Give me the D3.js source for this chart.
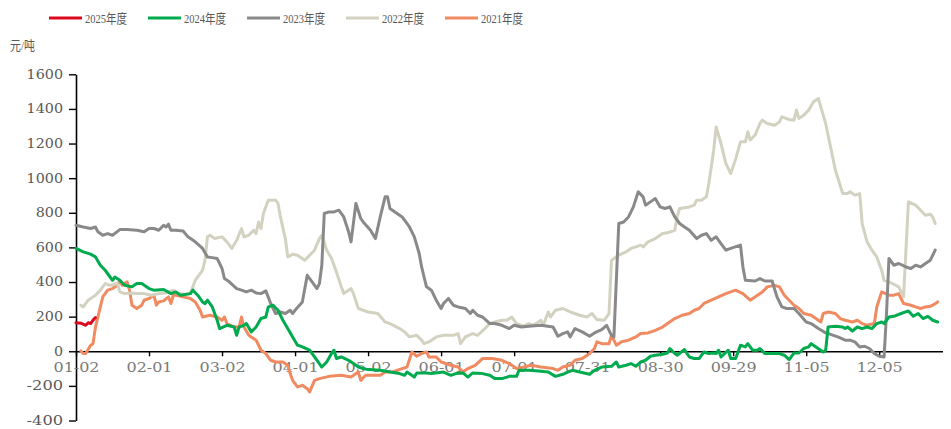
<!DOCTYPE html>
<html>
<head>
<meta charset="utf-8">
<script src="https://cdn.jsdelivr.net/npm/d3@7"></script>
<style>
body { margin: 0; background: #fff; }
svg text { fill: #595959; }
</style>
</head>
<body>
<script>
// category labels shown on the x axis (one every 30 trading dates)
var xLabels = ["01-02", "02-01", "03-02", "04-01", "05-02", "06-01", "07-01", "07-31", "08-30", "09-29", "11-05", "12-05"];
var yTicks = [-400, -200, 0, 200, 400, 600, 800, 1000, 1200, 1400, 1600];
var seriesNames = ["2025年度", "2024年度", "2023年度", "2022年度", "2021年度"];
var seriesColors = ["#dc0a1e", "#00aa4e", "#898989", "#d3d2c0", "#f08a60"];

// [category index, 元/吨]
var s2025 = [[0,165],[2,162],[4,150],[5,165],[6,160],[7,180],[8,195]];

var s2024 = [[0,594],[3,574],[6,561],[8,545],[10,497],[12,468],[14,429],[15,410],[16,429],[18,410],[20,381],[23,372],[25,391],[27,391],[30,362],[32,353],[36,357],[39,333],[41,343],[43,324],[47,333],[48,353],[50,324],[52,285],[53,275],[54,295],[56,256],[58,179],[59,131],[62,150],[65,140],[66,92],[67,140],[69,150],[70,160],[72,112],[74,140],[76,189],[78,198],[79,256],[81,266],[83,237],[85,179],[87,131],[89,83],[91,35],[93,25],[96,6],[98,-33],[101,-91],[103,-62],[105,-13],[106,6],[107,-42],[109,-33],[112,-52],[114,-71],[116,-91],[118,-100],[120,-106],[125,-110],[129,-120],[133,-129],[135,-139],[136,-120],[139,-149],[140,-125],[144,-125],[146,-129],[151,-120],[154,-139],[156,-129],[159,-125],[161,-149],[163,-125],[167,-129],[170,-139],[172,-158],[175,-158],[178,-145],[181,-145],[182,-110],[186,-110],[190,-114],[194,-120],[197,-145],[200,-133],[202,-120],[204,-110],[207,-120],[211,-133],[213,-110],[216,-91],[220,-87],[222,-62],[223,-91],[226,-81],[228,-71],[230,-87],[232,-62],[234,-52],[236,-29],[238,-23],[241,-17],[243,-10],[244,16],[246,-13],[247,-23],[250,10],[251,-13],[252,-33],[254,-42],[256,-42],[258,-4],[260,-13],[262,-10],[263,-13],[264,6],[265,-33],[268,6],[269,-42],[271,-42],[273,35],[275,25],[276,44],[278,6],[280,6],[281,16],[283,-13],[286,-13],[289,-13],[291,-23],[293,-48],[295,-10],[297,-10],[299,16],[301,25],[302,44],[304,25],[307,-4],[308,6],[309,140],[312,145],[315,140],[316,131],[317,140],[319,117],[321,140],[323,131],[325,140],[327,131],[329,160],[331,169],[332,160],[334,198],[336,202],[339,218],[342,233],[344,202],[346,218],[348,189],[350,202],[352,179],[354,169]];

var s2023 = [[0,728],[3,718],[6,709],[8,718],[9,690],[11,670],[13,680],[15,670],[18,703],[21,703],[25,699],[28,690],[30,709],[32,709],[34,699],[36,728],[37,718],[38,734],[39,699],[41,699],[44,695],[46,661],[49,632],[52,594],[54,545],[56,541],[58,536],[60,478],[61,420],[63,401],[66,362],[68,353],[70,343],[72,353],[74,337],[76,333],[78,349],[80,276],[82,218],[84,227],[86,218],[88,237],[89,218],[90,237],[93,285],[95,439],[97,401],[99,362],[100,391],[101,497],[102,796],[104,805],[106,805],[108,815],[110,776],[112,690],[113,632],[115,854],[117,767],[118,747],[121,699],[123,651],[125,776],[127,892],[128,892],[129,825],[131,805],[134,776],[135,757],[137,718],[139,661],[141,565],[142,487],[143,429],[144,372],[146,353],[148,295],[150,247],[151,276],[153,305],[155,266],[157,256],[160,247],[162,218],[163,237],[165,208],[167,198],[170,160],[172,160],[175,150],[178,131],[180,150],[183,140],[186,145],[191,150],[196,140],[198,87],[200,102],[202,112],[203,83],[205,131],[208,112],[211,87],[213,106],[216,125],[218,150],[220,92],[221,83],[222,410],[223,738],[225,747],[227,776],[229,834],[231,921],[233,892],[234,844],[236,863],[238,882],[240,834],[242,825],[244,834],[246,776],[248,738],[250,718],[252,699],[255,651],[257,670],[259,680],[261,641],[263,661],[265,622],[267,584],[269,594],[273,613],[274,487],[275,410],[279,406],[281,420],[283,406],[286,406],[288,314],[290,256],[292,247],[295,247],[297,218],[300,169],[302,160],[305,131],[308,106],[310,98],[313,83],[316,64],[318,64],[320,54],[322,25],[324,29],[326,16],[328,-13],[330,-29],[332,-33],[333,218],[334,536],[336,497],[338,507],[341,487],[343,478],[345,497],[347,487],[349,507],[351,526],[353,584]];

var s2022 = [[2,266],[3,256],[5,295],[8,324],[10,353],[12,391],[14,381],[17,391],[18,343],[20,333],[22,337],[25,333],[28,333],[31,324],[34,333],[37,337],[40,353],[42,333],[45,330],[47,333],[49,410],[52,468],[53,526],[54,661],[55,670],[57,651],[60,661],[62,632],[64,594],[66,641],[68,709],[69,661],[71,670],[73,699],[74,680],[75,747],[76,709],[77,796],[79,873],[82,873],[83,854],[84,776],[86,651],[87,545],[89,560],[91,555],[94,526],[98,584],[100,651],[101,670],[103,584],[105,536],[107,458],[109,372],[110,333],[113,362],[114,333],[116,247],[120,227],[124,218],[127,169],[129,160],[133,131],[135,112],[137,83],[140,92],[142,64],[143,44],[145,54],[148,83],[151,92],[155,92],[157,102],[158,44],[160,83],[163,102],[165,92],[168,131],[170,160],[172,169],[175,179],[177,179],[179,198],[181,160],[184,145],[186,160],[188,150],[191,179],[192,150],[194,227],[195,198],[197,237],[200,247],[203,227],[207,208],[210,198],[212,218],[214,183],[217,179],[219,218],[220,526],[223,555],[226,574],[228,594],[230,603],[232,613],[233,603],[235,632],[238,651],[241,680],[243,684],[246,699],[247,776],[248,825],[252,834],[254,844],[255,873],[257,873],[259,892],[260,969],[262,1162],[263,1296],[265,1200],[267,1084],[269,1027],[271,1110],[273,1210],[275,1210],[276,1268],[277,1220],[279,1249],[281,1316],[282,1335],[284,1316],[287,1306],[289,1325],[290,1354],[293,1339],[295,1335],[296,1393],[297,1345],[299,1364],[301,1393],[303,1441],[305,1460],[306,1412],[308,1316],[310,1181],[312,1046],[315,911],[317,911],[318,921],[320,902],[322,911],[323,738],[325,632],[327,584],[329,545],[331,468],[332,410],[334,401],[336,387],[338,372],[340,314],[342,863],[345,844],[347,815],[349,786],[351,792],[352,776],[353,738]];

var s2021 = [[2,2],[3,-13],[4,-13],[6,35],[7,44],[8,140],[10,256],[11,314],[13,353],[15,362],[17,381],[18,410],[19,381],[21,401],[22,353],[23,266],[25,247],[27,266],[28,295],[30,305],[32,324],[33,266],[34,285],[36,291],[38,314],[39,276],[40,324],[41,324],[44,314],[47,305],[49,285],[51,237],[52,198],[55,208],[58,198],[60,179],[61,198],[62,160],[65,140],[67,140],[68,198],[69,140],[71,92],[72,83],[74,64],[76,6],[78,-13],[80,-52],[82,-62],[85,-62],[87,-81],[88,-129],[89,-168],[91,-206],[93,-197],[95,-216],[96,-235],[98,-168],[100,-158],[104,-145],[109,-139],[113,-149],[116,-120],[117,-168],[119,-139],[123,-139],[125,-139],[127,-120],[130,-120],[134,-100],[136,-91],[138,-4],[140,-29],[142,-13],[144,-4],[145,-33],[148,-33],[150,-62],[154,-81],[157,-91],[159,-120],[161,-100],[164,-81],[167,-42],[171,-42],[175,-52],[178,-71],[181,-100],[184,-91],[187,-81],[191,-91],[196,-100],[198,-110],[200,-91],[203,-81],[205,-52],[208,-42],[211,-13],[213,16],[214,54],[216,44],[219,44],[220,92],[222,35],[224,54],[227,64],[230,83],[232,102],[235,106],[238,121],[241,140],[243,160],[246,189],[249,208],[252,218],[254,237],[256,247],[258,276],[261,295],[264,314],[267,333],[269,343],[271,353],[274,333],[277,295],[280,324],[282,343],[284,372],[287,381],[289,372],[291,324],[293,295],[295,266],[297,247],[299,218],[302,208],[304,189],[306,169],[307,218],[309,227],[312,218],[314,189],[316,179],[319,169],[321,179],[323,160],[325,150],[328,160],[329,256],[331,343],[334,324],[336,324],[338,333],[340,276],[343,266],[345,256],[347,247],[349,256],[351,260],[352,266],[354,285]];

var allSeries = [s2025, s2024, s2023, s2022, s2021];

var width = 951, height = 429;

var svg = d3.select("body")
            .append("svg")
            .attr("width", width)
            .attr("height", height);

var x = d3.scaleLinear().domain([0, 356]).range([76, 942.5]);
var y = d3.scaleLinear().domain([-400, 1600]).range([420.5, 74.3]);

// y axis
var yAxis = svg.append("g")
               .attr("transform", "translate(" + x(0) + ",0)")
               .call(d3.axisLeft(y)
                       .tickValues(yTicks)
                       .tickSize(7)
                       .tickSizeOuter(0)
                       .tickPadding(6)
                       .tickFormat(function(d){ return String(d); }));
yAxis.select(".domain").attr("stroke", "#000").attr("stroke-width", 1.6);
yAxis.selectAll(".tick line").attr("stroke", "#000").attr("stroke-width", 1.4);
yAxis.selectAll("text")
     .style("font-family", "'DejaVu Serif', serif")
     .style("font-size", "12px")
     .style("fill", "#595959")
     .attr("textLength", function(d){ return String(d).length * 9.1; })
     .attr("lengthAdjust", "spacingAndGlyphs");

// x axis sits on the zero line
var xAxis = svg.append("g")
               .attr("transform", "translate(0," + y(0) + ")")
               .call(d3.axisBottom(x)
                       .tickValues(d3.range(0, 331, 30))
                       .tickSize(5)
                       .tickSizeOuter(0)
                       .tickPadding(7)
                       .tickFormat(function(d, i){ return xLabels[i]; }));
xAxis.select(".domain").attr("stroke", "#000").attr("stroke-width", 1.6);
xAxis.selectAll(".tick line").attr("stroke", "#000").attr("stroke-width", 1.4);
xAxis.selectAll("text")
     .style("font-family", "'DejaVu Serif', serif")
     .style("font-size", "12px")
     .style("fill", "#7a7a7a")
     .attr("textLength", 46)
     .attr("lengthAdjust", "spacingAndGlyphs");

var line = d3.line()
             .x(function(d){ return x(d[0]); })
             .y(function(d){ return y(d[1]); });

// draw oldest first so 2025 ends on top
for (var k = allSeries.length - 1; k >= 0; k--) {
  svg.append("path")
     .datum(allSeries[k])
     .attr("fill", "none")
     .attr("stroke", seriesColors[k])
     .attr("stroke-width", 3)
     .attr("stroke-linejoin", "round")
     .attr("stroke-linecap", "round")
     .attr("d", line);
}

// legend
var legend = svg.selectAll("g.legend")
                .data(seriesNames)
                .enter()
                .append("g")
                .attr("class", "legend")
                .attr("transform", function(d, i){ return "translate(" + (49 + i * 99) + ",18)"; });
legend.append("line")
      .attr("x1", 0).attr("x2", 33)
      .attr("stroke", function(d, i){ return seriesColors[i]; })
      .attr("stroke-width", 3);
legend.append("text")
      .attr("x", 36)
      .attr("dy", "0.38em")
      .style("font-family", "'Liberation Serif', 'Noto Sans CJK SC', serif")
      .style("font-size", "13px")
      .attr("textLength", 42)
      .attr("lengthAdjust", "spacingAndGlyphs")
      .text(function(d){ return d; });

svg.append("text")
   .attr("x", 10)
   .attr("y", 50)
   .style("font-family", "'Liberation Serif', 'Noto Sans CJK SC', serif")
   .style("font-size", "13px")
   .attr("textLength", 25)
   .attr("lengthAdjust", "spacingAndGlyphs")
   .text("元/吨");
</script>
</body>
</html>
